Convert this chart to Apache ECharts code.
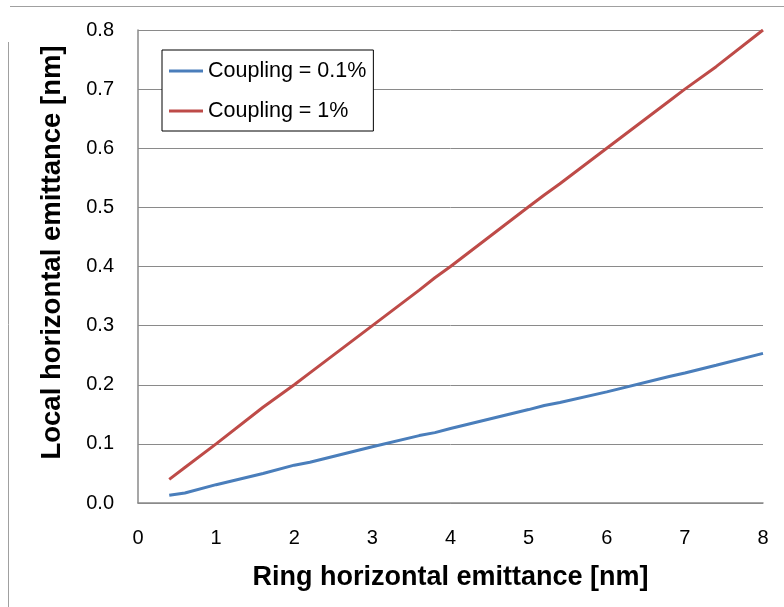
<!DOCTYPE html>
<html>
<head>
<meta charset="utf-8">
<script src="https://cdn.jsdelivr.net/npm/echarts@6/dist/echarts.min.js"></script>
<style>
  html, body { margin: 0; padding: 0; background: #ffffff; }
  #chart { width: 784px; height: 607px; }
</style>
</head>
<body>
<div id="chart"></div>
<script>
// Ring horizontal emittance [nm] (x values shared by both curves)
const ringEmittance = [0.4, 0.6, 1, 1.6, 2, 2.2, 3, 3.6, 3.8, 4, 5, 5.2, 5.4, 6, 6.8, 7, 7.4, 8];
// Local horizontal emittance [nm] at 0.1 % coupling
const localCoupling01 = [0.013, 0.017, 0.031, 0.050, 0.064, 0.069, 0.095, 0.114, 0.119, 0.126, 0.158, 0.165, 0.170, 0.188, 0.214, 0.220, 0.233, 0.253];
// Local horizontal emittance [nm] at 1 % coupling
const localCoupling1 = [0.040, 0.060, 0.100, 0.162, 0.200, 0.220, 0.300, 0.360, 0.381, 0.400, 0.501, 0.521, 0.540, 0.600, 0.680, 0.700, 0.738, 0.800];
const seriesNames = ['Coupling = 0.1%', 'Coupling = 1%'];
const xTicks = [0, 1, 2, 3, 4, 5, 6, 7, 8];
const yTicks = [0.0, 0.1, 0.2, 0.3, 0.4, 0.5, 0.6, 0.7, 0.8];

const pairs = ys => ringEmittance.map((x, i) => [x, ys[i]]);
const FONT = '"Liberation Sans", Arial, sans-serif';
const GRID_GRAY = '#8a8a8a';

const chart = echarts.init(document.getElementById('chart'), null, { renderer: 'canvas' });
chart.setOption({
  animation: false,
  backgroundColor: '#ffffff',
  textStyle: { fontFamily: FONT },
  grid: { left: 138, right: 21, top: 30, bottom: 104, containLabel: false },
  legend: {
    orient: 'vertical',
    left: 162,
    top: 50,
    data: seriesNames,
    icon: 'rect',
    itemWidth: 34,
    itemHeight: 3,
    itemGap: 18,
    padding: [10, 7, 9, 7],
    borderColor: '#000000',
    borderWidth: 1,
    backgroundColor: '#ffffff',
    textStyle: { fontFamily: FONT, fontSize: 21.5, color: '#000000', lineHeight: 21, padding: [0, 0, 0, 0] }
  },
  xAxis: {
    type: 'value',
    min: xTicks[0],
    max: xTicks[xTicks.length - 1],
    interval: 1,
    name: 'Ring horizontal emittance [nm]',
    nameLocation: 'middle',
    nameGap: 61,
    nameTextStyle: { fontFamily: FONT, fontSize: 27, fontWeight: 'bold', color: '#000000' },
    axisLine: { show: true, lineStyle: { color: GRID_GRAY, width: 1.5 } },
    axisTick: { show: false },
    splitLine: { show: false },
    axisLabel: { fontFamily: FONT, fontSize: 20, color: '#000000', margin: 25, formatter: v => String(v) }
  },
  yAxis: {
    type: 'value',
    min: yTicks[0],
    max: yTicks[yTicks.length - 1],
    interval: 0.1,
    name: 'Local horizontal emittance [nm]',
    nameLocation: 'middle',
    nameRotate: 90,
    nameGap: 72,
    nameTextStyle: { fontFamily: FONT, fontSize: 27.5, fontWeight: 'bold', color: '#000000', padding: [0, 0, 0, 28] },
    axisLine: { show: true, lineStyle: { color: GRID_GRAY, width: 1.5 } },
    axisTick: { show: false },
    splitLine: { show: true, lineStyle: { color: GRID_GRAY, width: 1 } },
    axisLabel: { fontFamily: FONT, fontSize: 20, color: '#000000', margin: 24, formatter: v => v.toFixed(1) }
  },
  series: [
    {
      name: seriesNames[0],
      type: 'line',
      data: pairs(localCoupling01),
      showSymbol: false,
      symbol: 'none',
      smooth: false,
      lineStyle: { color: '#4a7ebb', width: 3 },
      itemStyle: { color: '#4a7ebb' }
    },
    {
      name: seriesNames[1],
      type: 'line',
      data: pairs(localCoupling1),
      showSymbol: false,
      symbol: 'none',
      smooth: false,
      lineStyle: { color: '#be4b48', width: 3 },
      itemStyle: { color: '#be4b48' }
    }
  ],
  graphic: [
    // thin frame lines along the top and left edges of the figure
    { type: 'line', shape: { x1: 10, y1: 6.5, x2: 784, y2: 6.5 }, style: { stroke: '#a0a0a0', lineWidth: 1 }, silent: true },
    { type: 'line', shape: { x1: 8.5, y1: 42, x2: 8.5, y2: 607 }, style: { stroke: '#a0a0a0', lineWidth: 1 }, silent: true }
  ]
});
</script>
</body>
</html>
